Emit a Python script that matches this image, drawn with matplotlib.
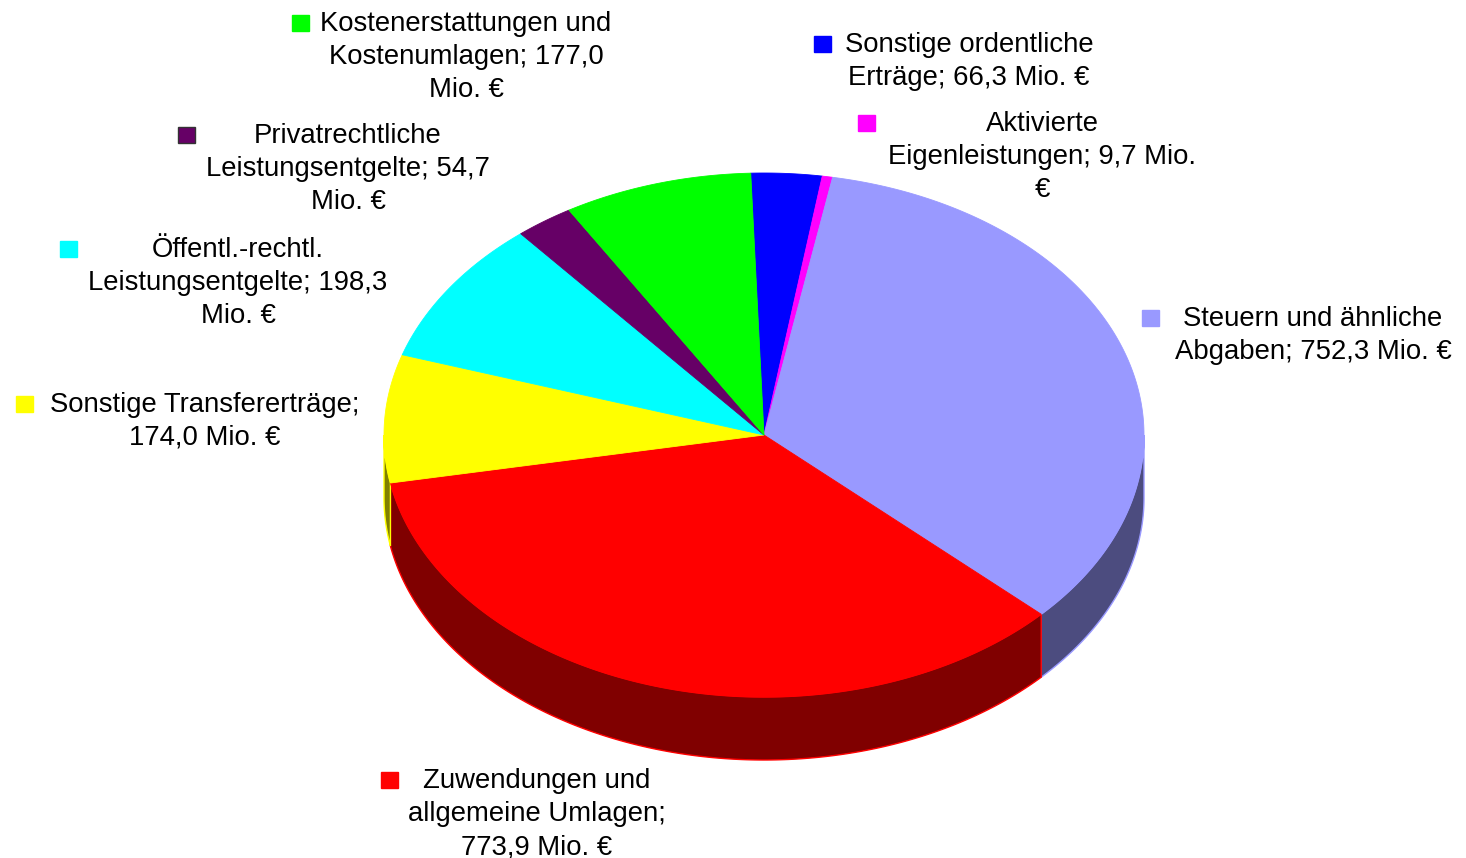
import textwrap
import numpy as np
import matplotlib
matplotlib.use("Agg")
import matplotlib.pyplot as plt
from matplotlib.patches import Polygon, Rectangle

plt.rcParams['font.family'] = ['Liberation Sans', 'DejaVu Sans']

# slices, clockwise from 12 o'clock
labels = ["Sonstige ordentliche Erträge", "Aktivierte Eigenleistungen",
          "Steuern und ähnliche Abgaben", "Zuwendungen und allgemeine Umlagen",
          "Sonstige Transfererträge", "Öffentl.-rechtl. Leistungsentgelte",
          "Privatrechtliche Leistungsentgelte", "Kostenerstattungen und Kostenumlagen"]
values = [66.3, 9.7, 752.3, 773.9, 174.0, 198.3, 54.7, 177.0]
top_colors = ['#0000FF', '#FF00FF', '#9999FF', '#FF0000',
              '#FFFF00', '#00FFFF', '#660066', '#00FF00']
side_colors = ['#000080', '#800080', '#4C4C7F', '#800000',
               '#808000', '#008080', '#330033', '#008000']

# label layout (pixels): text centre x, first baseline y, marker centre x, wrap width
label_x = [969, 1042, 1313, 537, 205, 238, 348, 466]
label_y = [52, 131, 326, 788, 412, 257, 143, 31]
marker_x = [822, 866, 1150, 389, 24, 68, 186, 300]
wrap_w = [20, 25, 21, 19, 25, 24, 23, 22]

# pie geometry (pixels)
CX, CY, RX, RY, DEPTH = 764, 435, 380, 262, 63
START = -2.0
FS = 19.8
LINE_H = 33

fig = plt.figure(figsize=(14.66, 8.58), dpi=100)
ax = fig.add_axes([0, 0, 1, 1])
ax.set_xlim(0, 1466)
ax.set_ylim(858, 0)
ax.axis('off')


def rim(t, drop=0.0):
    t = np.radians(t)
    return np.column_stack([CX + RX * np.sin(t), CY - RY * np.cos(t) + drop])


vals = np.array(values)
angles = START + np.concatenate([[0], np.cumsum(vals)]) / vals.sum() * 360

# side walls (only the front half is visible)
for i in range(len(vals)):
    a0, a1 = max(angles[i], 90), min(angles[i + 1], 270)
    if a1 <= a0:
        continue
    t = np.linspace(a0, a1, 200)
    pts = np.vstack([rim(t), rim(t[::-1], DEPTH)])
    ax.add_patch(Polygon(pts, closed=True, facecolor=side_colors[i],
                         edgecolor=top_colors[i], lw=1))

# top faces
for i in range(len(vals)):
    t = np.linspace(angles[i], angles[i + 1], 300)
    pts = np.vstack([[CX, CY], rim(t)])
    ax.add_patch(Polygon(pts, closed=True, facecolor=top_colors[i],
                         edgecolor=top_colors[i], lw=0.6))

# data labels with legend keys
for i in range(len(vals)):
    num = f"{values[i]:.1f}".replace('.', ',')
    txt = f"{labels[i]}; {num} Mio. €"
    lines = textwrap.wrap(txt, wrap_w[i], break_on_hyphens=False)
    for k, line in enumerate(lines):
        ax.text(label_x[i], label_y[i] + k * LINE_H, line, ha='center',
                va='baseline', fontsize=FS, color='black')
    ec = '#333333' if top_colors[i] == '#660066' else top_colors[i]
    ax.add_patch(Rectangle((marker_x[i] - 8.5, label_y[i] - 16), 17, 16,
                           facecolor=top_colors[i], edgecolor=ec, lw=1))

fig.savefig("out.png", dpi=100)
